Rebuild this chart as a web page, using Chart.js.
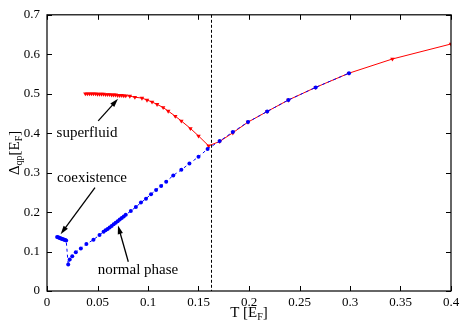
<!DOCTYPE html>
<html>
<head>
<meta charset="utf-8">
<script src="https://cdn.jsdelivr.net/npm/chart.js@4.4.1/dist/chart.umd.min.js"></script>
<style>
  html, body { margin: 0; padding: 0; background: #fff; }
  canvas { display: block; }
</style>
</head>
<body>
<canvas id="myChart" width="467" height="327"></canvas>
<script>
// superfluid branch (red)
const superfluidT = [0.038, 0.040, 0.042, 0.044, 0.046, 0.048, 0.050, 0.052, 0.054, 0.056, 0.058, 0.060,
  0.062, 0.064, 0.066, 0.068, 0.070, 0.072, 0.074, 0.076, 0.078, 0.082, 0.087, 0.094, 0.099, 0.104,
  0.109, 0.115, 0.120, 0.127, 0.133, 0.142, 0.150, 0.160, 0.171, 0.184, 0.199, 0.218, 0.239, 0.266,
  0.299, 0.342, 0.400];
const superfluidGap = [0.500, 0.500, 0.500, 0.500, 0.500, 0.500, 0.499, 0.499, 0.499, 0.499, 0.498, 0.498,
  0.498, 0.497, 0.497, 0.497, 0.496, 0.496, 0.496, 0.495, 0.495, 0.494, 0.491, 0.489, 0.484, 0.479,
  0.473, 0.465, 0.456, 0.443, 0.431, 0.412, 0.393, 0.368, 0.379, 0.401, 0.428, 0.455, 0.484, 0.516,
  0.552, 0.588, 0.626];

// coexistence + normal phase branch (blue)
const normalT = [0.010, 0.011, 0.012, 0.013, 0.014, 0.015, 0.016, 0.017, 0.018, 0.019,
  0.021, 0.0225, 0.025, 0.0285, 0.0335, 0.039, 0.046, 0.052,
  0.056, 0.058, 0.060, 0.062, 0.064, 0.066, 0.068, 0.070, 0.072, 0.074, 0.076, 0.078,
  0.083, 0.088, 0.093, 0.098, 0.103, 0.108, 0.113, 0.118, 0.125, 0.133, 0.141, 0.150, 0.159,
  0.171, 0.184, 0.199, 0.218, 0.239, 0.266, 0.299];
const normalGap = [0.137, 0.136, 0.135, 0.134, 0.133, 0.132, 0.131, 0.130, 0.129, 0.128,
  0.067, 0.080, 0.088, 0.098, 0.108, 0.119, 0.130, 0.142,
  0.150, 0.154, 0.157, 0.161, 0.165, 0.169, 0.173, 0.177, 0.181, 0.185, 0.189, 0.193,
  0.203, 0.213, 0.224, 0.234, 0.245, 0.256, 0.266, 0.277, 0.293, 0.307, 0.323, 0.340, 0.360,
  0.380, 0.403, 0.428, 0.455, 0.484, 0.516, 0.552];

const criticalT = 0.162;

// labels with arrows, in data units: [text, textX, textY, arrowFromX, arrowFromY, arrowToX, arrowToY]
const notes = [
  ['superfluid', 0.0396, 0.400, 0.0507, 0.431, 0.0703, 0.487],
  ['coexistence', 0.0446, 0.287, 0.0475, 0.262, 0.0135, 0.144],
  ['normal phase', 0.0901, 0.053, 0.0805, 0.074, 0.0703, 0.166]
];

const serif = '"Liberation Serif", "DejaVu Serif", serif';

const toPoints = (xs, ys) => xs.map((x, i) => ({ x: x, y: ys[i] }));

// draw text runs with subscripts, starting at x (left), baseline y
function richWidth(ctx, parts) {
  let w = 0;
  parts.forEach(p => { ctx.font = p[1] + 'px ' + serif; w += ctx.measureText(p[0]).width; });
  return w;
}
function richText(ctx, parts, x, y) {
  parts.forEach(p => {
    ctx.font = p[1] + 'px ' + serif;
    ctx.fillText(p[0], x, y + p[2]);
    x += ctx.measureText(p[0]).width;
  });
}

const framePlugin = {
  id: 'frame',
  afterDraw(chart) {
    const { ctx, chartArea: a, scales } = chart;
    ctx.save();
    ctx.strokeStyle = '#000';
    ctx.fillStyle = '#000';

    // critical temperature
    const xc = Math.round(scales.x.getPixelForValue(criticalT)) + 0.5;
    ctx.lineWidth = 1;
    ctx.setLineDash([3, 2]);
    ctx.beginPath();
    ctx.moveTo(xc, a.top);
    ctx.lineTo(xc, a.bottom);
    ctx.stroke();
    ctx.setLineDash([]);

    // box + inward ticks on all four sides
    ctx.lineWidth = 1.2;
    ctx.strokeRect(a.left, a.top, a.right - a.left, a.bottom - a.top);
    ctx.lineWidth = 1;
    ctx.beginPath();
    scales.x.ticks.forEach(t => {
      const px = Math.round(scales.x.getPixelForValue(t.value)) + 0.5;
      ctx.moveTo(px, a.bottom); ctx.lineTo(px, a.bottom - 5);
      ctx.moveTo(px, a.top); ctx.lineTo(px, a.top + 5);
    });
    scales.y.ticks.forEach(t => {
      const py = Math.round(scales.y.getPixelForValue(t.value)) + 0.5;
      ctx.moveTo(a.left, py); ctx.lineTo(a.left + 5, py);
      ctx.moveTo(a.right, py); ctx.lineTo(a.right - 5, py);
    });
    ctx.stroke();

    // annotations
    ctx.font = '15px ' + serif;
    ctx.textAlign = 'center';
    ctx.textBaseline = 'middle';
    notes.forEach(n => {
      ctx.fillText(n[0], scales.x.getPixelForValue(n[1]), scales.y.getPixelForValue(n[2]));
      const x0 = scales.x.getPixelForValue(n[3]), y0 = scales.y.getPixelForValue(n[4]);
      const x1 = scales.x.getPixelForValue(n[5]), y1 = scales.y.getPixelForValue(n[6]);
      const ang = Math.atan2(y1 - y0, x1 - x0);
      ctx.lineWidth = 1.3;
      ctx.beginPath();
      ctx.moveTo(x0, y0);
      ctx.lineTo(x1 - 6 * Math.cos(ang), y1 - 6 * Math.sin(ang));
      ctx.stroke();
      ctx.beginPath();
      ctx.moveTo(x1, y1);
      ctx.lineTo(x1 - 9 * Math.cos(ang - 0.3), y1 - 9 * Math.sin(ang - 0.3));
      ctx.lineTo(x1 - 9 * Math.cos(ang + 0.3), y1 - 9 * Math.sin(ang + 0.3));
      ctx.closePath();
      ctx.fill();
    });

    // axis titles with subscripts
    ctx.textAlign = 'left';
    ctx.textBaseline = 'alphabetic';
    const xt = [['T [E', 15, 0], ['F', 10, 3], [']', 15, 0]];
    const xw = richWidth(ctx, xt);
    richText(ctx, xt, (a.left + a.right) / 2 - xw / 2, 317);

    const yt = [['\u0394', 15, 0], ['qp', 10, 3], ['[E', 15, 0], ['F', 10, 3], [']', 15, 0]];
    const yw = richWidth(ctx, yt);
    ctx.translate(19, (a.top + a.bottom) / 2);
    ctx.rotate(-Math.PI / 2);
    richText(ctx, yt, -yw / 2, 0);
    ctx.restore();
  }
};

const fmt = v => String(Number(v.toFixed(2)));

const ctx = document.getElementById('myChart').getContext('2d');
const myChart = new Chart(ctx, {
  type: 'scatter',
  data: {
    datasets: [{
      label: 'normal phase',
      data: toPoints(normalT, normalGap),
      showLine: true,
      borderColor: '#0000ff',
      backgroundColor: '#0000ff',
      borderWidth: 1,
      borderDash: [3, 3],
      pointRadius: 2,
      pointStyle: 'circle',
      pointBorderWidth: 0,
      order: 1
    }, {
      label: 'superfluid',
      data: toPoints(superfluidT, superfluidGap),
      showLine: true,
      borderColor: '#ff0000',
      backgroundColor: '#ff0000',
      borderWidth: 1,
      pointRadius: 2.6,
      pointStyle: 'triangle',
      rotation: 180,
      pointBorderWidth: 0,
      order: 2
    }]
  },
  options: {
    responsive: false,
    animation: false,
    devicePixelRatio: 1,
    layout: { padding: { top: 12, right: 16, left: 0, bottom: 0 } },
    plugins: { legend: { display: false }, tooltip: { enabled: false } },
    scales: {
      x: {
        type: 'linear',
        min: 0, max: 0.4,
        grid: { display: false, drawTicks: false },
        border: { display: false },
        ticks: { stepSize: 0.05, padding: 4, color: '#000', font: { family: serif, size: 13 },
                 callback: fmt, maxRotation: 0 },
        afterFit: s => { s.height = 36; }
      },
      y: {
        type: 'linear',
        min: 0, max: 0.7,
        grid: { display: false, drawTicks: false },
        border: { display: false },
        ticks: { stepSize: 0.1, padding: 7, color: '#000', font: { family: serif, size: 13 },
                 callback: fmt },
        afterFit: s => { s.width = 47; }
      }
    }
  },
  plugins: [framePlugin]
});
</script>
</body>
</html>
